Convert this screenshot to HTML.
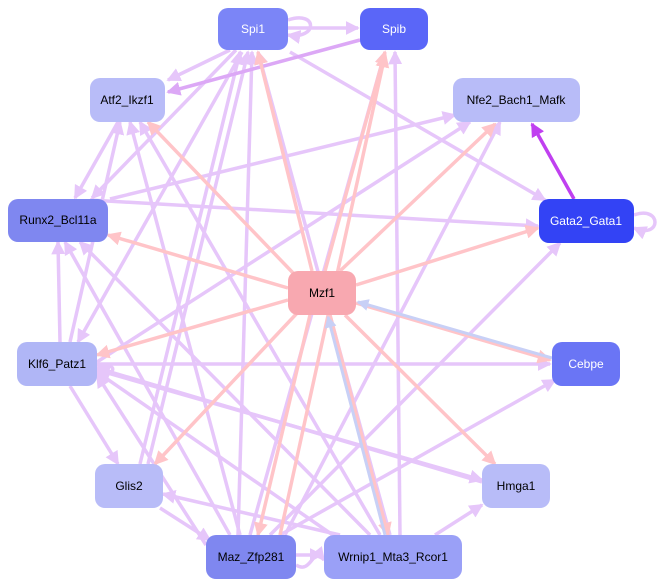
<!DOCTYPE html>
<html><head><meta charset="utf-8"><style>
html,body{margin:0;padding:0;background:#fff;width:666px;height:587px;overflow:hidden}
text{font-family:"Liberation Sans",sans-serif;font-size:12px;text-anchor:middle;dominant-baseline:central}
</style></head><body>
<svg width="666" height="587" viewBox="0 0 666 587" xmlns="http://www.w3.org/2000/svg">
<defs>
<marker id="l" markerWidth="4" markerHeight="4" refX="3.5" refY="2" orient="auto"><path d="M0,0L4,2L0,4z" fill="#e6c6fa"/></marker>
<marker id="p" markerWidth="4" markerHeight="4" refX="3.5" refY="2" orient="auto"><path d="M0,0L4,2L0,4z" fill="#ffc4c8"/></marker>
<marker id="d" markerWidth="4" markerHeight="4" refX="3.5" refY="2" orient="auto"><path d="M0,0L4,2L0,4z" fill="#c040f0"/></marker>
<marker id="m" markerWidth="4" markerHeight="4" refX="3.5" refY="2" orient="auto"><path d="M0,0L4,2L0,4z" fill="#dca8f6"/></marker>
<marker id="b" markerWidth="4" markerHeight="4" refX="3.5" refY="2" orient="auto"><path d="M0,0L4,2L0,4z" fill="#c8d0f6"/></marker>
</defs>
<g fill="none" stroke-width="3.5">
<!-- lavender edges -->
<g stroke="#e6c6fa" marker-end="url(#l)">
<line x1="288" y1="28" x2="358" y2="28"/>
<line x1="230" y1="50" x2="168" y2="80"/>
<line x1="236" y1="50" x2="92" y2="198"/>
<line x1="290" y1="52" x2="545" y2="200"/>
<line x1="242" y1="52" x2="78" y2="342"/>
<line x1="140" y1="464" x2="240" y2="52"/>
<line x1="148" y1="464" x2="248" y2="52"/>
<line x1="238" y1="535" x2="252" y2="52"/>
<line x1="390" y1="535" x2="258" y2="52"/>
<line x1="400" y1="535" x2="395" y2="52"/>
<line x1="250" y1="535" x2="385" y2="52"/>
<line x1="118" y1="122" x2="75" y2="198"/>
<line x1="60" y1="342" x2="58" y2="242"/>
<line x1="70" y1="342" x2="120" y2="122"/>
<line x1="110" y1="199" x2="455" y2="115"/>
<line x1="97" y1="362" x2="470" y2="122"/>
<line x1="97" y1="364" x2="550" y2="364"/>
<line x1="97" y1="370" x2="482" y2="480"/>
<line x1="70" y1="386" x2="118" y2="464"/>
<line x1="90" y1="200" x2="538" y2="226"/>
<line x1="230" y1="535" x2="65" y2="242"/>
<line x1="370" y1="535" x2="80" y2="242"/>
<line x1="240" y1="535" x2="130" y2="122"/>
<line x1="380" y1="535" x2="140" y2="122"/>
<line x1="206" y1="545" x2="97" y2="375"/>
<line x1="340" y1="540" x2="97" y2="372"/>
<line x1="482" y1="482" x2="97" y2="368"/>
<line x1="270" y1="535" x2="560" y2="243"/>
<line x1="280" y1="535" x2="555" y2="380"/>
<line x1="285" y1="535" x2="500" y2="122"/>
<line x1="435" y1="535" x2="482" y2="505"/>
<line x1="340" y1="535" x2="163" y2="494"/>
<line x1="160" y1="508" x2="210" y2="540"/>
<line x1="296" y1="555" x2="322" y2="555"/>
<path d="M97,366 C118,362 118,376 97,373"/>
<path d="M288,20 C318,10 318,40 288,35"/>
<path d="M634,215 C662,205 662,240 634,228"/>
<path d="M296,565 C312,575 312,545 324,560"/>
</g>
<line x1="360" y1="40" x2="168" y2="92" stroke="#dca8f6" marker-end="url(#m)"/>
<line x1="574" y1="199" x2="532" y2="124" stroke="#c040f0" marker-end="url(#d)"/>
<!-- pink -->
<g stroke="#ffc4c8" marker-end="url(#p)">
<line x1="312" y1="271" x2="258" y2="52"/>
<line x1="325" y1="271" x2="385" y2="52"/>
<line x1="340" y1="271" x2="495" y2="124"/>
<line x1="356" y1="285" x2="538" y2="228"/>
<line x1="356" y1="303" x2="550" y2="360"/>
<line x1="345" y1="315" x2="495" y2="464"/>
<line x1="330" y1="315" x2="388" y2="535"/>
<line x1="310" y1="315" x2="258" y2="535"/>
<line x1="300" y1="310" x2="155" y2="464"/>
<line x1="288" y1="300" x2="97" y2="355"/>
<line x1="288" y1="288" x2="108" y2="235"/>
<line x1="295" y1="275" x2="148" y2="122"/>
<line x1="280" y1="535" x2="385" y2="55"/>
</g>
<g stroke="#c8d0f6" marker-end="url(#b)" stroke-width="3">
<line x1="552" y1="358" x2="358" y2="302"/>
<line x1="385" y1="535" x2="328" y2="317"/>
</g>
</g>
<g>
<rect x="218" y="8" width="70" height="42" rx="10" fill="#7b85f7"/><text x="253" y="29" fill="#fff">Spi1</text>
<rect x="360" y="8" width="68" height="42" rx="10" fill="#5a66f8"/><text x="394" y="29" fill="#fff">Spib</text>
<rect x="90" y="78" width="75" height="44" rx="10" fill="#b8bcf8"/><text x="127" y="100" fill="#000">Atf2_Ikzf1</text>
<rect x="453" y="78" width="127" height="44" rx="10" fill="#b8bcf8"/><text x="516" y="100" fill="#000">Nfe2_Bach1_Mafk</text>
<rect x="8" y="199" width="100" height="43" rx="10" fill="#7f87f0"/><text x="58" y="220" fill="#000">Runx2_Bcl11a</text>
<rect x="539" y="199" width="95" height="44" rx="10" fill="#3343f5"/><text x="586" y="221" fill="#fff">Gata2_Gata1</text>
<rect x="288" y="271" width="68" height="44" rx="10" fill="#f8a8b0"/><text x="322" y="293" fill="#000">Mzf1</text>
<rect x="17" y="342" width="80" height="44" rx="10" fill="#b0b6f6"/><text x="57" y="364" fill="#000">Klf6_Patz1</text>
<rect x="552" y="342" width="68" height="44" rx="10" fill="#6a75f5"/><text x="586" y="364" fill="#fff">Cebpe</text>
<rect x="95" y="464" width="68" height="44" rx="10" fill="#b8bcf8"/><text x="129" y="486" fill="#000">Glis2</text>
<rect x="482" y="464" width="68" height="44" rx="10" fill="#b8bcf8"/><text x="516" y="486" fill="#000">Hmga1</text>
<rect x="206" y="535" width="90" height="44" rx="10" fill="#7f87f0"/><text x="251" y="557" fill="#000">Maz_Zfp281</text>
<rect x="324" y="535" width="138" height="44" rx="10" fill="#9aa0f7"/><text x="393" y="557" fill="#000">Wrnip1_Mta3_Rcor1</text>
</g>
</svg>
</body></html>
